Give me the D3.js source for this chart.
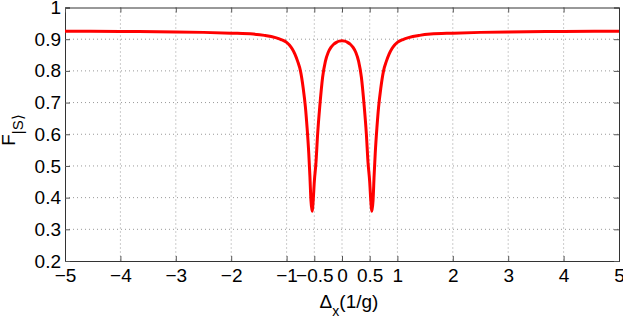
<!DOCTYPE html>
<html><head><meta charset="utf-8">
<script src="https://cdn.jsdelivr.net/npm/d3@7"></script>
<style>
html,body{margin:0;padding:0;background:#fff;}
text{font-family:"Liberation Sans",Arial,Helvetica,sans-serif;}
</style></head>
<body><svg id="c" width="623" height="319"></svg>
<script>
// Data
const deltaX = [-5,-4,-3,-2.5,-2,-1.6,-1.4,-1.2,-1.1,-1.0,-0.95,-0.9,-0.85,-0.8,-0.75,-0.7,-0.66,-0.63,-0.6,-0.58,-0.56,-0.54,-0.52,-0.5,-0.47,-0.44,-0.4,-0.35,-0.3,-0.25,-0.2,-0.15,-0.1,-0.05,
  0,
  0.05,0.1,0.15,0.2,0.25,0.3,0.35,0.4,0.44,0.47,0.5,0.52,0.54,0.56,0.58,0.6,0.63,0.66,0.7,0.75,0.8,0.85,0.9,0.95,1.0,1.1,1.2,1.4,1.6,2,2.5,3,4,5];
const fidelity = [0.925,0.9245,0.923,0.9215,0.919,0.916,0.912,0.905,0.899,0.89,0.882,0.87,0.853,0.83,0.80,0.745,0.685,0.62,0.54,0.47,0.39,0.357,0.39,0.45,0.51,0.6,0.69,0.78,0.83,0.858,0.874,0.884,0.89,0.894,
  0.895,
  0.894,0.89,0.884,0.874,0.858,0.83,0.78,0.69,0.6,0.51,0.45,0.39,0.357,0.39,0.47,0.54,0.62,0.685,0.745,0.80,0.83,0.853,0.87,0.882,0.89,0.899,0.905,0.912,0.916,0.919,0.9215,0.923,0.9245,0.925];
const xTicks = [-5,-4,-3,-2,-1,-0.5,0,0.5,1,2,3,4,5];
const xTickLabels = ["\u22125","\u22124","\u22123","\u22122","\u22121","\u22120.5","0","0.5","1","2","3","4","5"];
const yTicks = [0.2,0.3,0.4,0.5,0.6,0.7,0.8,0.9,1];
const yTickLabels = ["0.2","0.3","0.4","0.5","0.6","0.7","0.8","0.9","1"];

const svg = d3.select("#c");
const L = 65, R = 619, T = 7.5, B = 261;
const x = d3.scaleLinear().domain([-5,5]).range([L,R]);
const y = d3.scaleLinear().domain([0.2,1]).range([B,T]);

// grid
const g = svg.append("g");
g.selectAll("line.gx").data(xTicks.filter(v=>v>-5&&v<5)).enter().append("line")
  .attr("x1",d=>x(d)).attr("x2",d=>x(d)).attr("y1",T).attr("y2",B)
  .attr("stroke","#999").attr("stroke-width",1).attr("stroke-dasharray","1,3");
g.selectAll("line.gy").data(yTicks.filter(v=>v>0.2&&v<1)).enter().append("line")
  .attr("x1",L).attr("x2",R).attr("y1",d=>y(d)).attr("y2",d=>y(d))
  .attr("stroke","#999").attr("stroke-width",1).attr("stroke-dasharray","1,3");

// axes
const fs = 19;
const ax = svg.append("g").attr("transform",`translate(0,${B})`)
  .call(d3.axisBottom(x).tickValues(xTicks).tickSize(-5).tickPadding(8)
    .tickFormat((d,i)=>xTickLabels[i]));
const ay = svg.append("g").attr("transform",`translate(${L},0)`)
  .call(d3.axisLeft(y).tickValues(yTicks).tickSize(-5).tickPadding(4)
    .tickFormat((d,i)=>yTickLabels[i]));
const at = svg.append("g").attr("transform",`translate(0,${T})`)
  .call(d3.axisTop(x).tickValues(xTicks).tickSize(-5).tickFormat(""));
const ar = svg.append("g").attr("transform",`translate(${R},0)`)
  .call(d3.axisRight(y).tickValues(yTicks).tickSize(-5).tickFormat(""));
[ax,ay,at,ar].forEach(a=>{
  a.selectAll("path.domain").attr("stroke","#333").attr("stroke-width",1);
  a.selectAll(".tick line").attr("stroke","#555");
  a.selectAll("text").attr("font-size",fs).attr("fill","#000")
    .style("font-family",'"Liberation Sans",Arial,Helvetica,sans-serif');
});

// curve
svg.append("path")
  .datum(deltaX.map((d,i)=>[d,fidelity[i]]))
  .attr("fill","none").attr("stroke","#ff0000").attr("stroke-width",3)
  .attr("stroke-linejoin","round")
  .attr("d",d3.line().x(d=>x(d[0])).y(d=>y(d[1])).curve(d3.curveMonotoneX));

// x label
const xl = svg.append("text").attr("x",349).attr("y",308).attr("text-anchor","middle")
  .attr("font-size",19).attr("fill","#000");
xl.append("tspan").text("\u0394");
xl.append("tspan").attr("font-size",14).attr("dy",8).text("x");
xl.append("tspan").attr("dy",-8).text("(1/g)");

// y label
const yl = svg.append("text").attr("transform","translate(15,130) rotate(-90)")
  .attr("text-anchor","middle").attr("font-size",19).attr("fill","#000");
yl.append("tspan").text("F");
yl.append("tspan").attr("font-size",15).attr("dy",8).text("|S\u27E9");
</script></body></html>
